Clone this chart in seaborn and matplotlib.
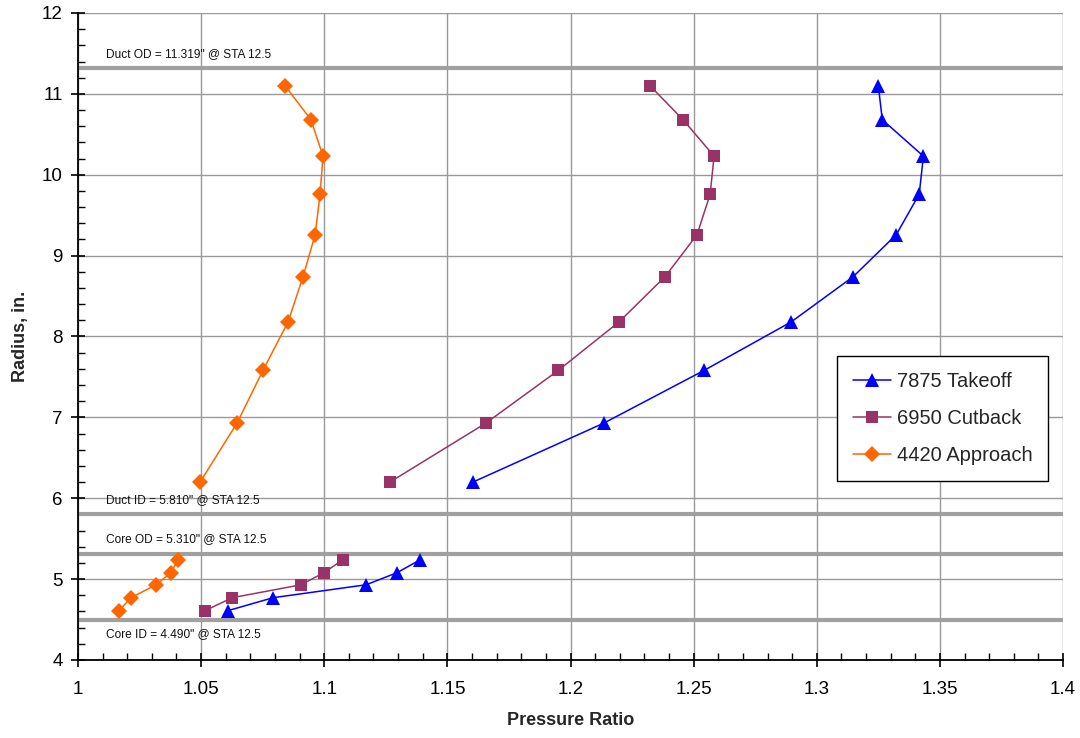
import numpy as np
import pandas as pd
import seaborn as sns
import matplotlib
matplotlib.use("Agg")
import matplotlib.pyplot as plt
from matplotlib.lines import Line2D
from matplotlib.ticker import MultipleLocator

# ---- data ----
series_names = ["7875 Takeoff", "6950 Cutback", "4420 Approach"]

radius_upper = [11.10, 10.68, 10.23, 9.76, 9.26, 8.74, 8.18, 7.58, 6.93, 6.20]
radius_lower = [4.61, 4.77, 4.93, 5.08, 5.24]

takeoff_upper = [1.3250, 1.3266, 1.3433, 1.3416, 1.3323, 1.3148, 1.2896, 1.2542, 1.2136, 1.1604]
takeoff_lower = [1.0609, 1.0792, 1.1170, 1.1296, 1.1390]

cutback_upper = [1.2323, 1.2457, 1.2583, 1.2567, 1.2514, 1.2384, 1.2197, 1.1950, 1.1657, 1.1267]
cutback_lower = [1.0516, 1.0626, 1.0906, 1.0999, 1.1076]

approach_upper = [1.0841, 1.0946, 1.0995, 1.0983, 1.0963, 1.0914, 1.0853, 1.0751, 1.0646, 1.0496]
approach_lower = [1.0167, 1.0215, 1.0317, 1.0378, 1.0406]

boundary_values = [11.319, 5.810, 5.310, 4.490]
boundary_labels = ['Duct OD = 11.319" @ STA 12.5', 'Duct ID = 5.810" @ STA 12.5',
                   'Core OD = 5.310" @ STA 12.5', 'Core ID = 4.490" @ STA 12.5']

# ---- build long frame ----
rows = []
for name, up, lo in zip(series_names,
                        [takeoff_upper, cutback_upper, approach_upper],
                        [takeoff_lower, cutback_lower, approach_lower]):
    for x, y in zip(up, radius_upper):
        rows.append((name, name + "_u", x, y))
    for x, y in zip(lo, radius_lower):
        rows.append((name, name + "_l", x, y))
df = pd.DataFrame(rows, columns=["series", "segment", "pr", "radius"])

colors = {"7875 Takeoff": "#0000FF", "6950 Cutback": "#993366", "4420 Approach": "#FF6600"}
markers = {"7875 Takeoff": "^", "6950 Cutback": "s", "4420 Approach": "D"}
msizes = {"7875 Takeoff": 10.5, "6950 Cutback": 8.5, "4420 Approach": 8}

sns.set_theme(style="white")
plt.rcParams['font.family'] = ['Liberation Sans', 'DejaVu Sans']

fig = plt.figure(figsize=(10.8, 7.38), dpi=100)
ax = fig.add_axes([0.0722, 0.1057, 0.9121, 0.8767])

for name in series_names:
    sub = df[df.series == name]
    sns.lineplot(data=sub, x="pr", y="radius", units="segment", estimator=None,
                 sort=False, color=colors[name], lw=1.1, marker=markers[name],
                 markersize=msizes[name], markeredgewidth=0, ax=ax, legend=False)

# boundary lines and labels
label_offsets = [0.17, 0.17, 0.19, -0.17]
for val, lab, off in zip(boundary_values, boundary_labels, label_offsets):
    ax.axhline(val, color="#a0a0a0", lw=3, zorder=1.5)
    ax.text(1.0114, val + off, lab, fontsize=8.6, va="center", ha="left", color="#111111")

ax.set_xlim(1.0, 1.4)
ax.set_ylim(4, 12)
ax.xaxis.set_major_locator(MultipleLocator(0.05))
ax.xaxis.set_minor_locator(MultipleLocator(0.01))
ax.yaxis.set_major_locator(MultipleLocator(1))
ax.yaxis.set_minor_locator(MultipleLocator(0.2))
ax.set_xticks(np.arange(1.0, 1.4001, 0.05))
ax.set_xticklabels(["1", "1.05", "1.1", "1.15", "1.2", "1.25", "1.3", "1.35", "1.4"])
ax.set_yticks(range(4, 13))
ax.set_yticklabels([str(v) for v in range(4, 13)])

ax.grid(True, which="major", color="#999999", lw=1)
ax.set_axisbelow(True)
for s in ["top", "right"]:
    ax.spines[s].set_visible(False)
for s in ["left", "bottom"]:
    ax.spines[s].set_color("black")
    ax.spines[s].set_linewidth(1.3)

ax.tick_params(axis="x", which="major", direction="inout", length=10, width=1.2,
               colors="black", labelsize=13.5, pad=10, bottom=True)
ax.tick_params(axis="y", which="major", direction="inout", length=10, width=1.2,
               colors="black", labelsize=13.5, pad=6, left=True)
ax.tick_params(axis="both", which="minor", direction="in", length=5, width=1,
               colors="black", left=True, bottom=True)

ax.set_xlabel("Pressure Ratio", fontsize=13, fontweight="bold", labelpad=10)
ax.set_ylabel("Radius, in.", fontsize=13, fontweight="bold", labelpad=9)

handles = [Line2D([], [], color=colors[n], marker=markers[n], markersize=msizes[n],
                  markeredgewidth=0, lw=1.1) for n in series_names]
leg = ax.legend(handles, series_names, loc="upper right", bbox_to_anchor=(0.985, 0.47),
                fontsize=14.5, frameon=True, fancybox=False, edgecolor="black",
                framealpha=1, handlelength=1.9, labelspacing=0.9, borderpad=0.8,
                handletextpad=0.25, borderaxespad=0)
leg.get_frame().set_linewidth(1.0)

fig.savefig("out.png", dpi=100)
